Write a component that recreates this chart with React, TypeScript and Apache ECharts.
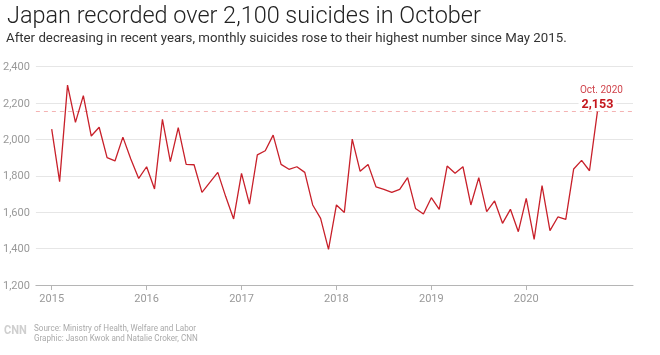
import React, { useEffect, useRef } from "react";
import * as echarts from "echarts";

const yearLabels = ["2015", "2016", "2017", "2018", "2019", "2020"];
const v2015 = [2057, 1768, 2299, 2094, 2241, 2019, 2067, 1900, 1882, 2013, 1893, 1786];
const v2016 = [1850, 1728, 2111, 1878, 2065, 1863, 1861, 1709, 1764, 1819, 1686, 1563];
const v2017 = [1814, 1645, 1915, 1938, 2024, 1863, 1836, 1850, 1819, 1640, 1566, 1396];
const v2018 = [1640, 1599, 2002, 1825, 1863, 1740, 1726, 1709, 1726, 1790, 1621, 1590];
const v2019 = [1680, 1616, 1854, 1814, 1850, 1640, 1790, 1603, 1662, 1539, 1616, 1493];
const v2020 = [1676, 1451, 1746, 1499, 1574, 1561, 1838, 1885, 1828, 2153];
const yTicks = [1200, 1400, 1600, 1800, 2000, 2200, 2400];
const highlightLabel = "Oct. 2020";

const App: React.FC = () => {
  const ref = useRef<HTMLDivElement>(null);
  useEffect(() => {
    if (!ref.current) return;
    const chart = echarts.init(ref.current, undefined, { renderer: "svg" });
    const all = [...v2015, ...v2016, ...v2017, ...v2018, ...v2019, ...v2020];
    const last = all.length - 1;
    const data = all.map((v, i) => [i, v]);
    const yearTicks = yearLabels.map((_, i) => i * 12);
    chart.setOption({
      animation: false,
      grid: { left: 35, right: 27, top: 66.7, bottom: 70, containLabel: false },
      graphic: [
        {
          type: "text",
          x: 7,
          y: 15,
          scaleX: 1.02,
          style: {
            text: "Japan recorded over 2,100 suicides in October",
            font: "300 23px Roboto",
            fill: "#222",
            textVerticalAlign: "middle",
          },
        },
        {
          type: "text",
          x: 6,
          y: 38,
          scaleX: 1.02,
          style: {
            text: "After decreasing in recent years, monthly suicides rose to their highest number since May 2015.",
            font: "13px Roboto",
            fill: "#333",
            textVerticalAlign: "middle",
          },
        },
        {
          type: "text",
          x: 4,
          y: 330,
          scaleX: 0.85,
          style: {
            text: "CNN",
            font: "bold 13px Roboto",
            fill: "#cfcfcf",
            textVerticalAlign: "middle",
          },
        },
        {
          type: "text",
          x: 34,
          y: 327.7,
          scaleX: 0.9,
          style: {
            text: "Source: Ministry of Health, Welfare and Labor",
            font: "9px Roboto",
            fill: "#aaa",
            textVerticalAlign: "middle",
          },
        },
        {
          type: "text",
          x: 34,
          y: 338,
          scaleX: 0.9,
          style: {
            text: "Graphic: Jason Kwok and Natalie Croker, CNN",
            font: "9px Roboto",
            fill: "#aaa",
            textVerticalAlign: "middle",
          },
        },
      ],
      xAxis: {
        type: "value",
        min: -2,
        max: 73.5,
        axisLine: { show: true, lineStyle: { color: "#b5b5b5", width: 1 } },
        axisTick: { show: true, customValues: yearTicks, length: 5, lineStyle: { color: "#b5b5b5" } },
        axisLabel: {
          customValues: yearTicks,
          formatter: (v: number) => yearLabels[Math.round(v / 12)] ?? "",
          color: "#999",
          fontSize: 11,
          fontFamily: "Roboto",
          margin: 8,
        },
        splitLine: { show: false },
      },
      yAxis: {
        type: "value",
        min: yTicks[0],
        max: yTicks[yTicks.length - 1],
        interval: 200,
        axisLine: { show: false },
        axisTick: { show: false },
        axisLabel: {
          formatter: (v: number) => v.toLocaleString("en-US"),
          color: "#999",
          fontSize: 11,
          fontFamily: "Roboto",
          margin: 6,
        },
        splitLine: { lineStyle: { color: "#e6e6e6", width: 1 } },
      },
      series: [
        {
          type: "line",
          data,
          symbol: "none",
          lineStyle: { color: "#c8202a", width: 1.3 },
          itemStyle: { color: "#c8202a" },
          z: 3,
          markLine: {
            silent: true,
            symbol: "none",
            label: { show: false },
            lineStyle: { color: "#f4b3b3", type: [4, 4], width: 1 },
            data: [{ yAxis: all[last] }],
            z: 1,
          },
          markPoint: {
            silent: true,
            symbol: "circle",
            symbolSize: 1,
            itemStyle: { color: "rgba(0,0,0,0)" },
            data: [
              {
                coord: [last, all[last]],
                value: all[last],
                label: {
                  show: true,
                  position: "top",
                  distance: 1,
                  formatter: `{a|${highlightLabel}}\n{b|${all[last].toLocaleString("en-US")}}`,
                  rich: {
                    a: { fontSize: 10, color: "#d0444c", fontFamily: "Roboto", lineHeight: 13, padding: [0, 0, 0, 8] },
                    b: {
                      fontSize: 12.5,
                      fontWeight: "bold",
                      color: "#c4161c",
                      fontFamily: "Roboto",
                      lineHeight: 14,
                      backgroundColor: "#fff",
                      padding: [0, 3, 0, 3],
                    },
                  },
                },
              },
            ],
          },
        },
      ],
    });
    return () => chart.dispose();
  }, []);
  return <div ref={ref} style={{ position: "fixed", left: 0, top: 0, width: 660, height: 355 }} />;
};

export default App;
